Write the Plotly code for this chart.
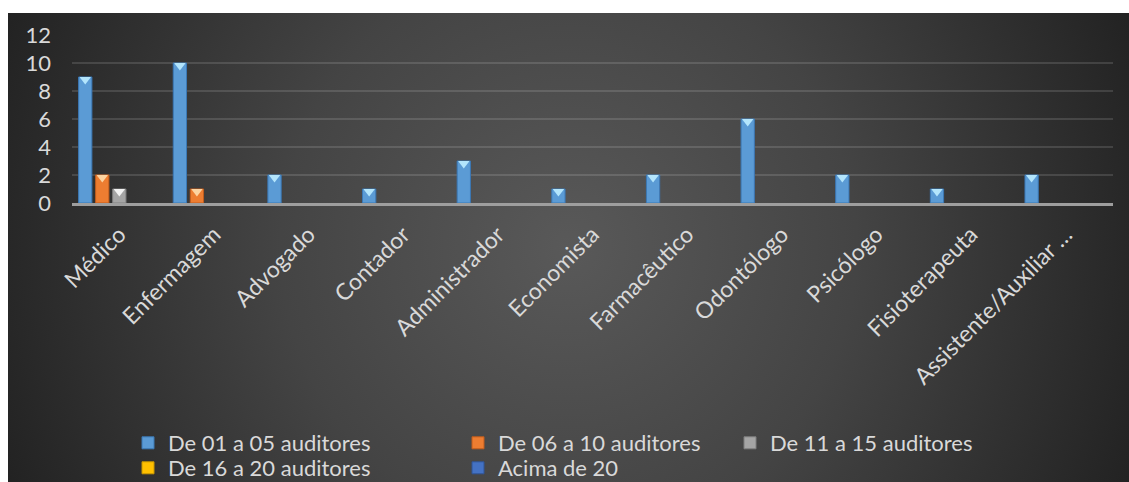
import base64
import plotly.graph_objects as go

# Professions on the category axis
categories = [
    "Médico", "Enfermagem", "Advogado", "Contador", "Administrador",
    "Economista", "Farmacêutico", "Odontólogo", "Psicólogo",
    "Fisioterapeuta", "Assistente/Auxiliar …",
]

# Counts per team-size band
de_01_a_05 = [9, 10, 2, 1, 3, 1, 2, 6, 2, 1, 2]
de_06_a_10 = [2, 1, 0, 0, 0, 0, 0, 0, 0, 0, 0]
de_11_a_15 = [1, 0, 0, 0, 0, 0, 0, 0, 0, 0, 0]
de_16_a_20 = [0, 0, 0, 0, 0, 0, 0, 0, 0, 0, 0]
acima_de_20 = [0, 0, 0, 0, 0, 0, 0, 0, 0, 0, 0]

series_names = [
    "De 01 a 05 auditores", "De 06 a 10 auditores", "De 11 a 15 auditores",
    "De 16 a 20 auditores", "Acima de 20",
]
series_values = [de_01_a_05, de_06_a_10, de_11_a_15, de_16_a_20, acima_de_20]
y_ticks = [0, 2, 4, 6, 8, 10, 12]

# Styling
bar_colors = ["#5b9bd5", "#ed7d31", "#a5a5a5", "#ffc000", "#4472c4"]
edge_colors = ["#3b78b5", "#c25d1c", "#7f7f7f", "#c99700", "#2f5597"]
cap_colors = ["#b3e5fc", "#fcd3a0", "#f2f2f2", "#fff0a8", "#9dc3f0"]
text_color = "#d9d9d9"
font_family = "Lato, 'Open Sans', sans-serif"

W, H = 1129, 482
M_L, M_R, M_T, M_B = 72, 16, 35, 279
plot_w = W - M_L - M_R
plot_h = H - M_T - M_B

# Legend entry placement (pixel x of entry start, pixel y of row centre)
legend_slots = [(128, 443), (458, 443), (730, 443), (128, 468), (458, 468)]

n_series = len(series_values)
slot = 0.9 / n_series
bar_w = slot * 0.78
y_max = y_ticks[-1]
# Small downward shift so the cap triangle sits inside the bar top
cap_size = 10
cap_shift = (cap_size / 4) * y_max / plot_h

fig = go.Figure()
x_idx = list(range(len(categories)))

legend_layout = {}
for j, (name, vals) in enumerate(zip(series_names, series_values)):
    legend_id = "legend" if j == 0 else f"legend{j + 1}"
    xs = [i + (j - (n_series - 1) / 2) * slot for i in x_idx]
    ys = [v if v > 0 else None for v in vals]
    fig.add_trace(go.Bar(
        x=xs, y=ys, width=bar_w, name=name, legend=legend_id,
        marker=dict(color=bar_colors[j], line=dict(color=edge_colors[j], width=1)),
    ))
    cx = [x for x, v in zip(xs, vals) if v > 0]
    cy = [v - cap_shift for v in vals if v > 0]
    fig.add_trace(go.Scatter(
        x=cx, y=cy, mode="markers", showlegend=False, hoverinfo="skip",
        marker=dict(symbol="triangle-down", size=cap_size, color=cap_colors[j],
                    line=dict(width=0)),
    ))
    lx, ly = legend_slots[j]
    legend_layout[legend_id] = dict(
        orientation="h", xref="paper", yref="container",
        x=(lx - M_L) / plot_w, xanchor="left",
        y=1 - ly / H, yanchor="middle",
        font=dict(size=22, color=text_color, family=font_family),
        bgcolor="rgba(0,0,0,0)", itemwidth=30,
    )

# Dark radial-gradient backdrop for the chart area
bg_w, bg_h = W - 8, H - 13
svg = f'''<svg xmlns="http://www.w3.org/2000/svg" width="{bg_w}" height="{bg_h}" viewBox="0 0 {bg_w} {bg_h}" preserveAspectRatio="none">
<defs><radialGradient id="g" gradientUnits="userSpaceOnUse" cx="{bg_w/2}" cy="{bg_h/2}" r="640">
<stop offset="0" stop-color="#595959"/><stop offset="0.45" stop-color="#444444"/><stop offset="1" stop-color="#1f1f1f"/>
</radialGradient></defs>
<rect width="{bg_w}" height="{bg_h}" fill="url(#g)"/></svg>'''
src = "data:image/svg+xml;base64," + base64.b64encode(svg.encode()).decode()

fig.add_layout_image(dict(
    source=src, xref="paper", yref="paper",
    x=(8 - M_L) / plot_w, y=(H - M_B - 13) / plot_h,
    sizex=bg_w / plot_w, sizey=bg_h / plot_h,
    xanchor="left", yanchor="top", sizing="stretch", layer="below",
))

fig.update_layout(
    width=W, height=H,
    margin=dict(l=M_L, r=M_R, t=M_T, b=M_B, autoexpand=False),
    paper_bgcolor="white", plot_bgcolor="rgba(0,0,0,0)",
    barmode="overlay",
    font=dict(family=font_family, color=text_color, size=22),
    showlegend=True,
    xaxis=dict(
        range=[-0.5, len(categories) - 0.5],
        tickmode="array", tickvals=x_idx, ticktext=categories,
        tickangle=-45, showgrid=False, zeroline=False,
        showline=True, linecolor="#9e9e9e", linewidth=3,
        ticks="", ticklabelstandoff=6, automargin=False,
        tickfont=dict(size=23, color=text_color),
    ),
    yaxis=dict(
        range=[0, y_max], tickmode="array", tickvals=y_ticks,
        showgrid=True, gridcolor="rgba(255,255,255,0.13)", gridwidth=2,
        zeroline=False, showline=False, ticks="",
        ticklabelstandoff=20, automargin=False,
        tickfont=dict(size=22, color=text_color),
    ),
    **legend_layout,
)

fig.write_html("out.html")
